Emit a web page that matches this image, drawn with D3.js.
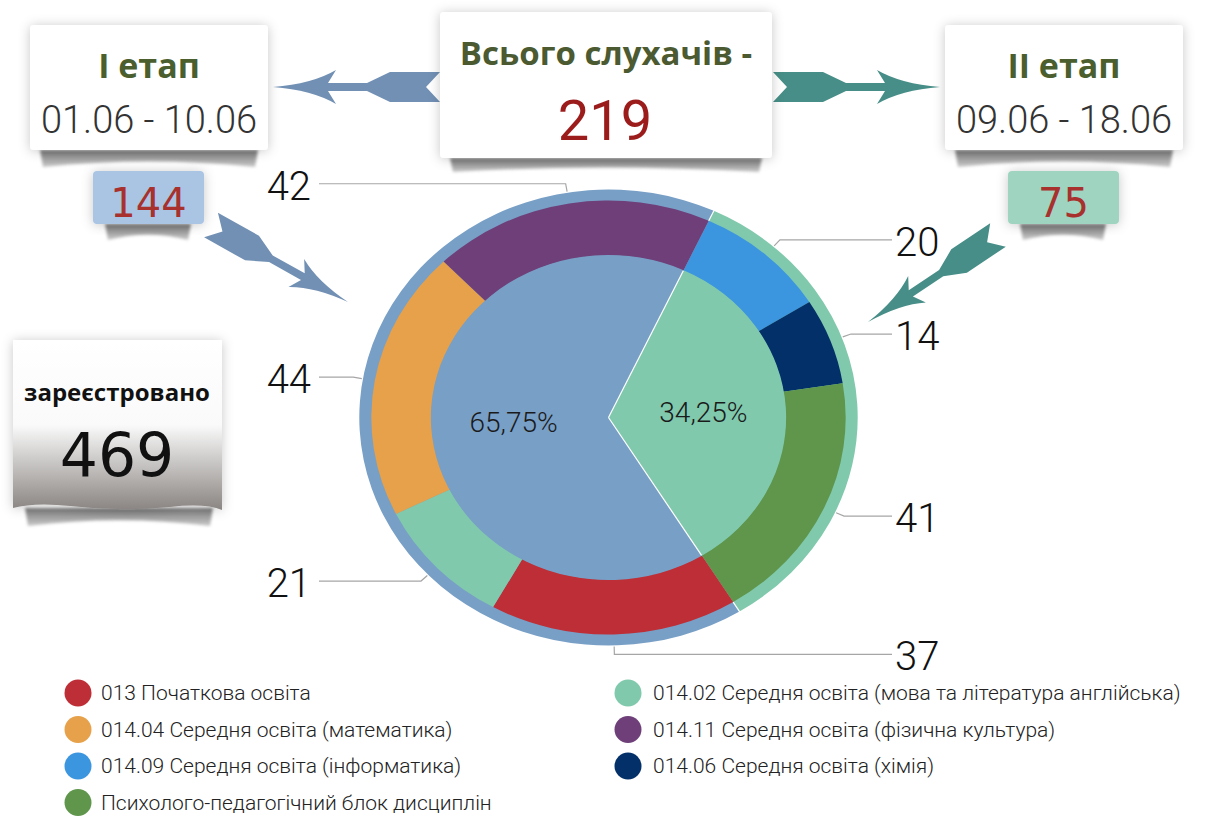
<!DOCTYPE html>
<html><head><meta charset="utf-8">
<script src="https://cdn.jsdelivr.net/npm/d3@7"></script>
<style>body{margin:0;background:#fff} svg{display:block}</style>
</head><body>
<svg id="c" width="1217" height="818"></svg>
<script>
// ---------- data ----------
const segCategories = [
  "014.09 Середня освіта (інформатика)",
  "014.06 Середня освіта (хімія)",
  "Психолого-педагогічний блок дисциплін",
  "013 Початкова освіта",
  "014.02 Середня освіта (мова та література англійська)",
  "014.04 Середня освіта (математика)",
  "014.11 Середня освіта (фізична культура)"
];
const segValues = [20, 14, 41, 37, 21, 44, 42];
const segColors = ["#3c95df", "#04306a", "#5f964c", "#bd2e36", "#80c9ad", "#e6a14a", "#6e3f78"];
const stageLabels = ["ІІ етап", "І етап"];
const stageDates  = ["09.06 - 18.06", "01.06 - 10.06"];
const stageValues = [75, 144];
const stageColors = ["#80c9ad", "#789fc6"];
const stageBoxColors = ["#9fd5c0", "#a9c5e3"];
const legendLeft  = ["013 Початкова освіта", "014.04 Середня освіта (математика)", "014.09 Середня освіта (інформатика)", "Психолого-педагогічний блок дисциплін"];
const legendRight = ["014.02 Середня освіта (мова та література англійська)", "014.11 Середня освіта (фізична культура)", "014.06 Середня освіта (хімія)"];
const totalTitle = "Всього слухачів -";
const registeredLabel = "зареєстровано";
const registered = 469;

// ---------- setup ----------
const svg = d3.select("#c");
const defs = svg.append("defs");
const sh = defs.append("filter").attr("id","sh").attr("x","-20%").attr("y","-20%").attr("width","140%").attr("height","140%");
sh.append("feDropShadow").attr("dx",0).attr("dy",1).attr("stdDeviation",6).attr("flood-color","#000").attr("flood-opacity",0.22);
const bl = defs.append("filter").attr("id","bl").attr("x","-10%").attr("y","-50%").attr("width","120%").attr("height","200%");
bl.append("feGaussianBlur").attr("stdDeviation",1.6);
const tg = defs.append("linearGradient").attr("id","tear").attr("x1",0).attr("y1",0).attr("x2",0).attr("y2",1);
tg.append("stop").attr("offset","0%").attr("stop-color","#555");
tg.append("stop").attr("offset","100%").attr("stop-color","#bbb");
const rg = defs.append("linearGradient").attr("id","regg").attr("x1",0).attr("y1",0).attr("x2",0).attr("y2",1);
rg.append("stop").attr("offset","0%").attr("stop-color","#ffffff");
rg.append("stop").attr("offset","50%").attr("stop-color","#fafafa");
rg.append("stop").attr("offset","100%").attr("stop-color","#8a8582");

const FB = "'Open Sans','Noto Sans',sans-serif";
const FL = "Roboto,'Open Sans',sans-serif";

function strip(x0, x1, y, h) {
  const m = (x0 + x1) / 2;
  svg.append("path")
    .attr("d", `M${x0},${y} L${x1},${y} L${x1-3},${y+h} Q${m},${y+h*0.35} ${x0+3},${y+h} Z`)
    .attr("fill","url(#tear)").attr("opacity",0.8).attr("filter","url(#bl)");
}
function box(x, y, w, h, fill) {
  svg.append("rect").attr("x",x).attr("y",y).attr("width",w).attr("height",h)
    .attr("rx",4).attr("fill",fill).attr("filter","url(#sh)");
}

// ---------- arrows ----------
const arrowD = "M0,-15 L50,-15 L73,-4 L112,-4 L104,-17 Q128,-3 167,0 Q128,3 104,17 L112,4 L73,4 L50,15 L0,15 L14,0 Z";
function arrow(x0, y0, x1, y1, color) {
  const L = Math.hypot(x1-x0, y1-y0), a = Math.atan2(y1-y0, x1-x0) * 180 / Math.PI;
  svg.append("path").attr("d", arrowD).attr("fill", color)
    .attr("transform", `translate(${x0},${y0}) rotate(${a}) scale(${L/167},${L/167})`);
}
arrow(440, 87, 273, 87, "#7190b4");
arrow(773, 87, 940, 87, "#468e87");
arrow(211, 225, 348, 302, "#7190b4");
arrow(998, 235, 868, 322, "#468e87");

// ---------- boxes ----------
const stageBoxX = [945, 30];
const valBoxX = [1008, 93];
stageLabels.forEach((lab, i) => {
  const bx = stageBoxX[i], cx = bx + 119;
  strip(bx + 10, bx + 228, 150, 17);
  box(bx, 25, 238, 125, "#fff");
  svg.append("text").attr("x",cx).attr("y",78).attr("text-anchor","middle")
    .attr("font-family",FB).attr("font-weight",700).attr("font-size",34).attr("fill","#4b5e2e").text(lab);
  svg.append("text").attr("x",cx).attr("y",133).attr("text-anchor","middle")
    .attr("font-family",FL).attr("font-weight",300).attr("font-size",38).attr("fill","#333").text(stageDates[i]);
  const vx = valBoxX[i];
  strip(vx + 12, vx + 98, 224, 16);
  box(vx, 171, 111, 53, stageBoxColors[i]);
  svg.append("text").attr("x",vx + 55.5).attr("y",217).attr("text-anchor","middle")
    .attr("font-family","'DejaVu Sans',sans-serif").attr("font-size",40).attr("fill","#a8302d").text(stageValues[i]);
});

// center box
strip(450, 762, 158, 14);
box(440, 12, 332, 146, "#fff");
svg.append("text").attr("x",606).attr("y",65).attr("text-anchor","middle")
  .attr("font-family",FB).attr("font-weight",700).attr("font-size",33).attr("fill","#4b5a30").text(totalTitle);
svg.append("text").attr("x",605).attr("y",140).attr("text-anchor","middle")
  .attr("font-family",FL).attr("font-size",56).attr("fill","#9c1c1c").text(d3.sum(stageValues));

// registered box
strip(25, 213, 508, 18);
svg.append("path")
  .attr("d","M13,340 L222,340 L222,510 Q205,503 170,507 Q120,512 70,506 Q35,502 13,508 Z")
  .attr("fill","url(#regg)").attr("filter","url(#sh)");
svg.append("text").attr("x",117).attr("y",401).attr("text-anchor","middle")
  .attr("font-family",FB).attr("font-weight",700).attr("font-size",24).attr("fill","#111").text(registeredLabel);
svg.append("text").attr("x",117).attr("y",476).attr("text-anchor","middle")
  .attr("font-family","'DejaVu Sans',sans-serif").attr("font-size",60).attr("fill","#111").text(registered);

// ---------- pie ----------
const cx = 608.5, cy = 417.5, sx = 1.093;
const R = 228, rOut = 217, rIn = 162, rLine0 = 229, rLine1 = 237;
const start = 25 * Math.PI / 180;
const g = svg.append("g").attr("transform", `translate(${cx},${cy}) scale(${sx},1)`);

const stagePie = d3.pie().sort(null).startAngle(start).endAngle(start + 2*Math.PI)(stageValues);
const segPie = d3.pie().sort(null).startAngle(start).endAngle(start + 2*Math.PI)(segValues);

g.selectAll("path.st").data(stagePie).join("path").attr("class","st")
  .attr("d", d3.arc().innerRadius(rIn - 1).outerRadius(R))
  .attr("fill", (d,i) => stageColors[i]);
g.selectAll("path.sg").data(segPie).join("path").attr("class","sg")
  .attr("d", d3.arc().innerRadius(rIn).outerRadius(rOut))
  .attr("fill", (d,i) => segColors[i]);
g.selectAll("path.in").data(stagePie).join("path").attr("class","in")
  .attr("d", d3.arc().innerRadius(0).outerRadius(rIn + 0.5))
  .attr("fill", (d,i) => stageColors[i]);
// white separators between the two stages (inner pie and outer band)
stagePie.forEach(d => {
  const a = d.startAngle;
  [[0, rIn], [rOut, R + 1]].forEach(([r0, r1]) => {
    g.append("line")
      .attr("x1", Math.sin(a)*r0).attr("y1", -Math.cos(a)*r0)
      .attr("x2", Math.sin(a)*r1).attr("y2", -Math.cos(a)*r1)
      .attr("stroke","#fff").attr("stroke-width",1.2).attr("vector-effect","non-scaling-stroke");
  });
});

// percent labels
const total = d3.sum(stageValues);
const lblArc = d3.arc().innerRadius(87).outerRadius(87);
stagePie.forEach(d => {
  const [x, y] = lblArc.centroid(d);
  svg.append("text").attr("x", cx + x*sx).attr("y", cy + y).attr("dy","0.35em")
    .attr("text-anchor","middle").attr("font-family",FL).attr("font-weight",300)
    .attr("font-size",28).attr("fill","#1a1a1a")
    .text((d.data/total*100).toFixed(2).replace(".", ",") + "%");
});

// leader lines + value labels
segPie.forEach(d => {
  const a = (d.startAngle + d.endAngle) / 2;
  const p = r => [cx + Math.sin(a)*r*sx, cy - Math.cos(a)*r];
  const p0 = p(rLine0), p1 = p(rLine1);
  const right = Math.sin(a) > 0;
  const xe = right ? 892 : 319;
  svg.append("polyline").attr("points", [p0, p1, [xe, p1[1]]].map(q => q.join(",")).join(" "))
    .attr("fill","none").attr("stroke","#a6a6a6").attr("stroke-width",1.2);
  svg.append("text").attr("x", right ? 895 : 311).attr("y", p1[1] + 2).attr("dy","0.35em")
    .attr("text-anchor", right ? "start" : "end")
    .attr("font-family",FL).attr("font-weight",300).attr("font-size",40).attr("fill","#111")
    .text(d.data);
});

// ---------- legend ----------
function legend(items, xc, xt) {
  items.forEach((name, i) => {
    const y = 693 + i * 36.5;
    svg.append("circle").attr("cx", xc).attr("cy", y).attr("r", 13.5)
      .attr("fill", segColors[segCategories.indexOf(name)]);
    svg.append("text").attr("x", xt).attr("y", y).attr("dy","0.35em")
      .attr("font-family",FL).attr("font-weight",300).attr("font-size",21).attr("fill","#222").text(name);
  });
}
legend(legendLeft, 78, 101);
legend(legendRight, 628, 653);
</script></body></html>
